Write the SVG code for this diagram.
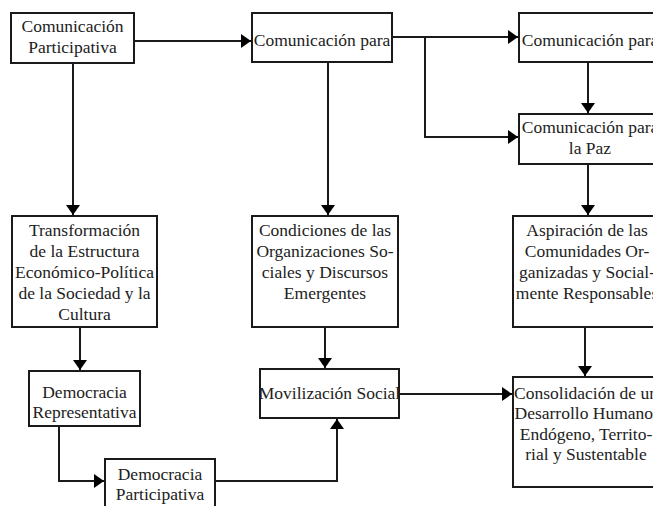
<svg xmlns="http://www.w3.org/2000/svg" width="653" height="506" viewBox="0 0 653 506">
<style>
.box{fill:#fff;stroke:#1a1a1a;stroke-width:2}
.t{font-family:"Liberation Serif","Times New Roman",serif;font-size:17.5px;fill:#222;text-anchor:middle}
.c{fill:none;stroke:#1a1a1a;stroke-width:2}
</style>
<defs>
<marker id="ah" markerUnits="userSpaceOnUse" markerWidth="11" markerHeight="14" refX="10" refY="7" orient="auto">
<path d="M0,0 L10,7 L0,14 z" fill="#000"/>
</marker>
</defs>
<rect width="653" height="506" fill="#fff"/>
<g id="connectors">
<path class="c" d="M134,41 H251" marker-end="url(#ah)"/>
<path class="c" d="M392,37 H518" marker-end="url(#ah)"/>
<path class="c" d="M425,37 V137 H518" marker-end="url(#ah)"/>
<path class="c" d="M588,62 V113" marker-end="url(#ah)"/>
<path class="c" d="M588,164 V215" marker-end="url(#ah)"/>
<path class="c" d="M73,63 V215" marker-end="url(#ah)"/>
<path class="c" d="M328,62 V215" marker-end="url(#ah)"/>
<path class="c" d="M80,327 V370" marker-end="url(#ah)"/>
<path class="c" d="M325,327 V368" marker-end="url(#ah)"/>
<path class="c" d="M585,327 V376" marker-end="url(#ah)"/>
<path class="c" d="M399,394 H512" marker-end="url(#ah)"/>
<path class="c" d="M59,426 V481 H104" marker-end="url(#ah)"/>
<path class="c" d="M215,481 H337 V419" marker-end="url(#ah)"/>
</g>
<g id="n1"><rect class="box" x="11" y="13" width="123" height="50"/><text class="t" x="72.5" y="32">Comunicación</text><text class="t" x="72.5" y="53">Participativa</text></g>
<g id="n2"><rect class="box" x="252" y="13" width="140" height="49"/><text class="t" x="322" y="46">Comunicación para</text></g>
<g id="n3"><rect class="box" x="519" y="13" width="142" height="49"/><text class="t" x="590" y="46">Comunicación para</text></g>
<g id="n4"><rect class="box" x="519" y="114" width="142" height="50"/><text class="t" x="590" y="133">Comunicación para</text><text class="t" x="590" y="154">la Paz</text></g>
<g id="n5"><rect class="box" x="12" y="216" width="145" height="111"/><text class="t" x="84.5" y="236">Transformación</text><text class="t" x="84.5" y="257">de la Estructura</text><text class="t" x="84.5" y="278">Económico-Política</text><text class="t" x="84.5" y="299">de la Sociedad y la</text><text class="t" x="84.5" y="320">Cultura</text></g>
<g id="n6"><rect class="box" x="252" y="216" width="146" height="111"/><text class="t" x="325" y="236">Condiciones de las</text><text class="t" x="325" y="257">Organizaciones So-</text><text class="t" x="325" y="278">ciales y Discursos</text><text class="t" x="325" y="299">Emergentes</text></g>
<g id="n7"><rect class="box" x="513" y="216" width="148" height="111"/><text class="t" x="587" y="236">Aspiración de las</text><text class="t" x="587" y="257">Comunidades Or-</text><text class="t" x="587" y="278">ganizadas y Social-</text><text class="t" x="587" y="299">mente Responsables</text></g>
<g id="n8"><rect class="box" x="29" y="371" width="111" height="55"/><text class="t" x="84.5" y="398">Democracia</text><text class="t" x="84.5" y="418">Representativa</text></g>
<g id="n9"><rect class="box" x="260" y="369" width="139" height="49"/><text class="t" x="329.5" y="399">Movilización Social</text></g>
<g id="n10"><rect class="box" x="105" y="459" width="110" height="60"/><text class="t" x="160" y="480">Democracia</text><text class="t" x="160" y="500">Participativa</text></g>
<g id="n11"><rect class="box" x="513" y="377" width="146" height="110"/><text class="t" x="586" y="399">Consolidación de un</text><text class="t" x="586" y="419">Desarrollo Humano,</text><text class="t" x="586" y="440">Endógeno, Territo-</text><text class="t" x="586" y="460">rial y Sustentable</text></g>
</svg>
